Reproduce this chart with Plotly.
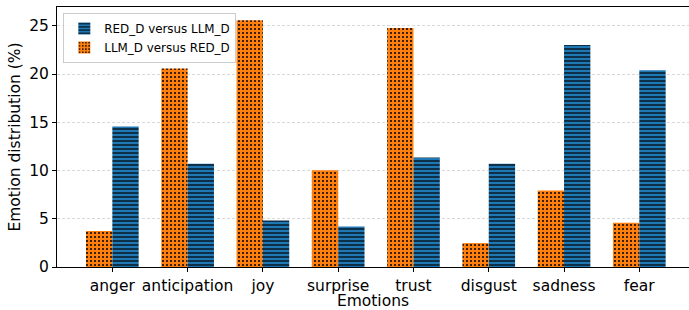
import plotly.graph_objects as go

categories = ["anger", "anticipation", "joy", "surprise", "trust", "disgust", "sadness", "fear"]
llm_vs_red = [3.73, 20.57, 25.57, 10.04, 24.78, 2.48, 7.94, 4.59]
red_vs_llm = [14.56, 10.7, 4.83, 4.21, 11.35, 10.7, 23.0, 20.4]
y_ticks = [0, 5, 10, 15, 20, 25]

font_family = "DejaVu Sans, sans-serif"

fig = go.Figure()
fig.add_trace(go.Bar(
    x=categories, y=llm_vs_red, name="LLM_D versus RED_D",
    marker=dict(color="#ff7f0e", line=dict(width=0),
                pattern=dict(shape=".", fgcolor="black", bgcolor="#ff7f0e",
                             fillmode="replace", size=4, solidity=0.2)),
))
fig.add_trace(go.Bar(
    x=categories, y=red_vs_llm, name="RED_D versus LLM_D",
    marker=dict(color="#1f77b4", line=dict(width=0),
                pattern=dict(shape="-", fgcolor="black", bgcolor="#1f77b4",
                             fillmode="replace", size=4, solidity=0.3)),
))

fig.update_layout(
    width=689, height=310,
    margin=dict(l=57, r=0, t=7, b=43, autoexpand=False),
    paper_bgcolor="white", plot_bgcolor="white",
    barmode="group", bargap=0.3, bargroupgap=0,
    font=dict(family=font_family, color="black", size=15.5),
    showlegend=True,
    legend=dict(
        x=0.01, y=0.977, xanchor="left", yanchor="top",
        traceorder="reversed",
        bgcolor="rgba(255,255,255,0.8)", bordercolor="#cccccc", borderwidth=1,
        font=dict(size=11.9, family=font_family),
        tracegroupgap=0, itemwidth=30,
    ),
)
fig.update_xaxes(
    range=[-0.735, 7.66], automargin=False,
    showline=True, linecolor="black", linewidth=1, mirror=True,
    ticks="outside", ticklen=4, tickcolor="black",
    tickfont=dict(size=15.5),
    showgrid=False, zeroline=False,
    title=dict(text="Emotions", font=dict(size=15.5), standoff=0),
)
fig.update_yaxes(
    range=[0, 26.95], automargin=False,
    tickvals=y_ticks,
    showline=True, linecolor="black", linewidth=1, mirror=False,
    ticks="outside", ticklen=4, tickcolor="black",
    tickfont=dict(size=15.5),
    showgrid=True, gridcolor="#d9d9d9", gridwidth=1, griddash="3px,2px",
    zeroline=False,
    title=dict(text="Emotion distribution (%)", font=dict(size=15.5), standoff=4),
)

fig.write_html(
    "out.html",
    config={"displayModeBar": False},
    post_script="document.body.style.margin='0';document.body.style.overflow='hidden';",
)
